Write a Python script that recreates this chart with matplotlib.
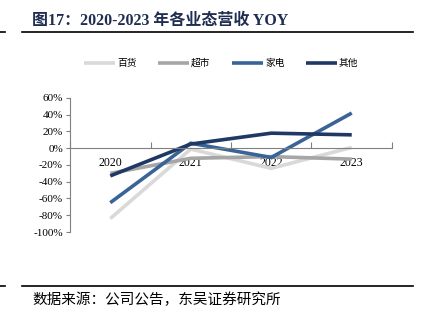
import matplotlib
matplotlib.use("Agg")
import matplotlib.pyplot as plt
from matplotlib.lines import Line2D

plt.rcParams['font.family'] = ['Liberation Serif', 'Noto Sans CJK SC']

# data
years = ["2020", "2021", "2022", "2023"]
baihuo = [-84, -1, -24, 1]      # 百货
chaoshi = [-30, -12, -10, -13]  # 超市
jiadian = [-65, 6, -11, 42]     # 家电
qita = [-33, 5, 18, 16]         # 其他
names = ["百货", "超市", "家电", "其他"]
colors = ["#d9d9d9", "#a6a6a6", "#3a6496", "#1f3864"]

fig = plt.figure(figsize=(4.27, 3.22), dpi=100)

# title and rules
fig.text(0.075, 0.935, "图17：2020-2023 年各业态营收 YOY", fontsize=11.5, fontweight="bold",
         color="#1f2d50", va="center")
fig.add_artist(Line2D([0.052, 0.967], [0.9, 0.9], color="black", lw=1.2))
fig.add_artist(Line2D([0.0, 0.012], [0.9, 0.9], color="black", lw=1.2))
fig.add_artist(Line2D([0.052, 0.967], [0.112, 0.112], color="black", lw=1.2))
fig.add_artist(Line2D([0.0, 0.012], [0.112, 0.112], color="black", lw=1.2))
fig.text(0.075, 0.068, "数据来源：公司公告，东吴证券研究所", fontsize=10.5, color="black", va="center",
         family=["Noto Sans CJK SC"])

ax = fig.add_axes([0.164, 0.2795, 0.754, 0.4162])
x = list(range(len(years)))
for vals, c, n in zip([baihuo, chaoshi, jiadian, qita], colors, names):
    ax.plot(x, vals, color=c, lw=2.6, label=n, solid_capstyle="butt")

ax.set_xlim(-0.5, 3.5)
ax.set_ylim(-100, 60)
ax.set_yticks(range(-100, 61, 20))
ax.set_yticklabels([f"{v}%" for v in range(-100, 61, 20)], fontsize=8)
ax.tick_params(axis="y", length=3, direction="out", color="#808080", pad=2)

ax.spines["top"].set_visible(False)
ax.spines["right"].set_visible(False)
ax.spines["left"].set_color("#808080")
ax.spines["bottom"].set_color("#808080")
ax.spines["bottom"].set_position(("data", 0))

ax.set_xticks([-0.5, 0.5, 1.5, 2.5, 3.5])
ax.set_xticklabels([])
ax.tick_params(axis="x", which="major", length=4, direction="in", color="#808080")
ax.set_xticks(x, minor=True)
ax.set_xticklabels(years, minor=True, fontsize=8.5)
ax.tick_params(axis="x", which="minor", length=0, pad=6)

ax.legend(loc="center", bbox_to_anchor=(0.47, 1.26), ncol=4, frameon=False,
          handlelength=3.2, columnspacing=2.2, handletextpad=0.2,
          prop={"family": ["Noto Sans CJK SC"], "size": 7})

fig.savefig("out.png", dpi=100)
